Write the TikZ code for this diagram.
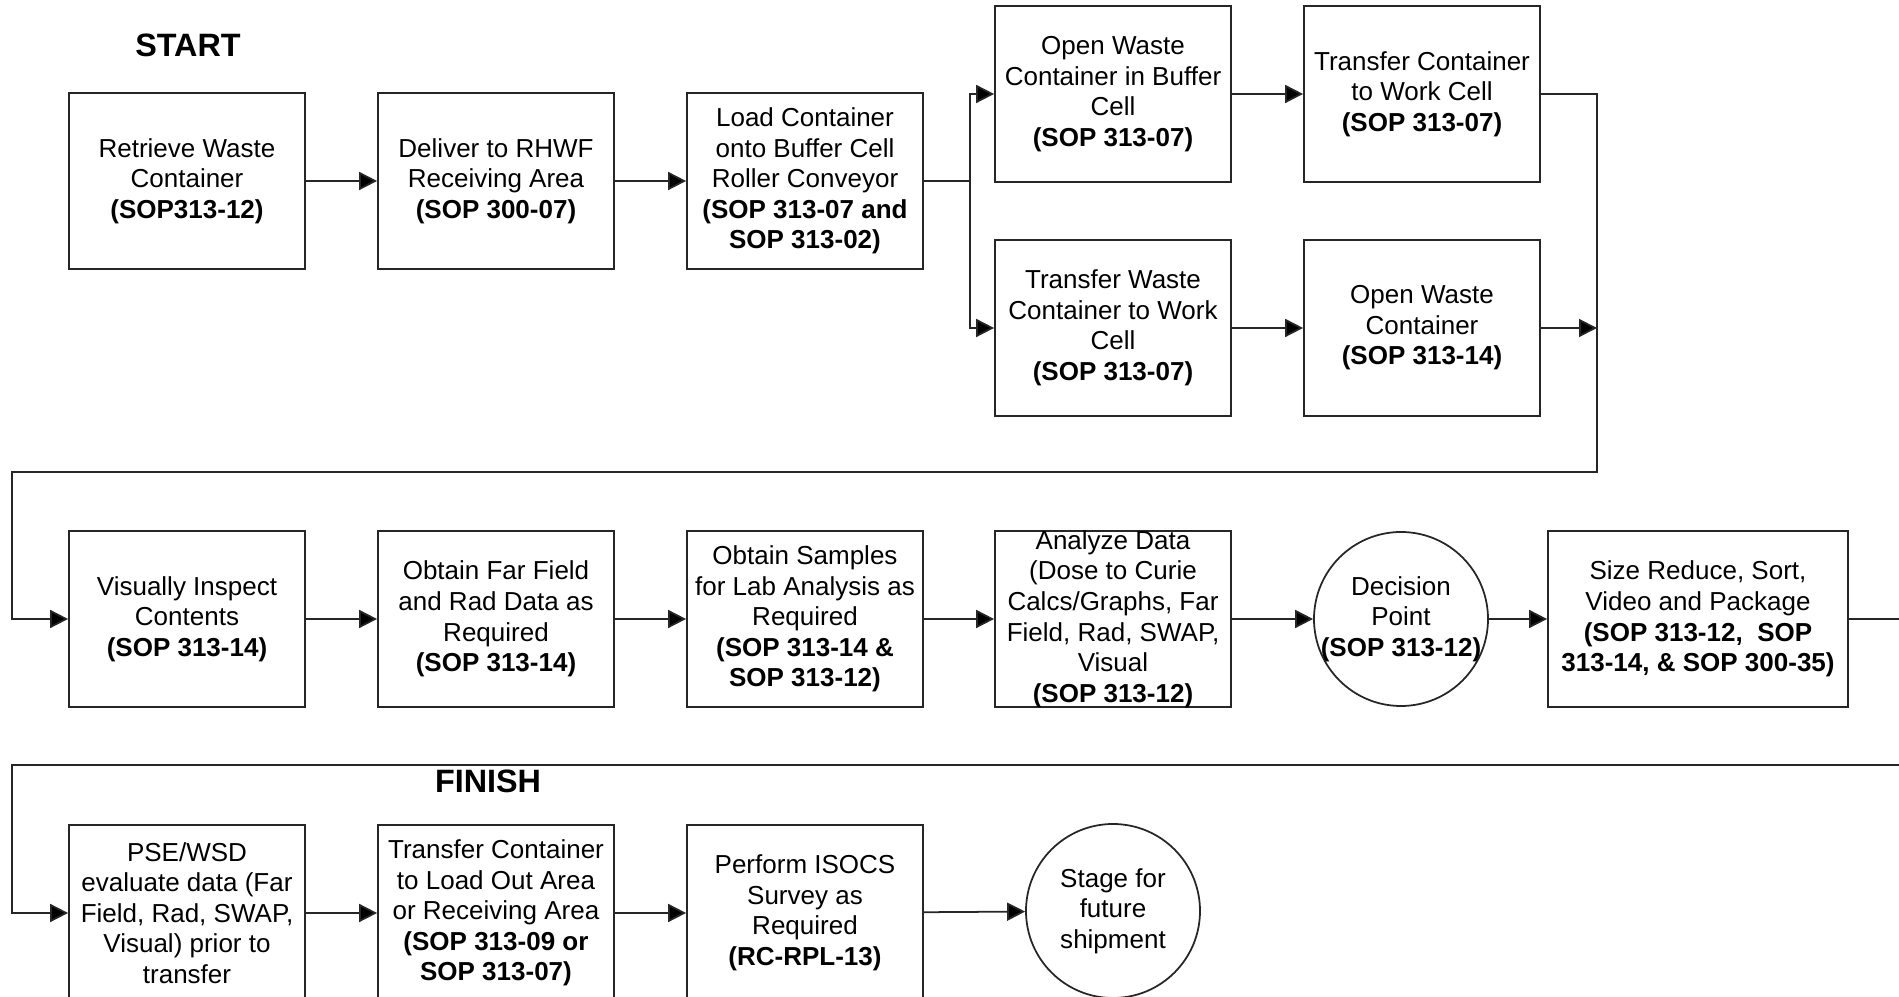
\documentclass[tikz,border=0pt]{standalone}
\usepackage{fontspec}
\setmainfont{Liberation Sans}
\usetikzlibrary{arrows.meta}
\newcommand{\boxfont}{\fontsize{7.4}{8.7}\selectfont}
\tikzstyle{proc}=[draw=black!85,line width=0.5pt,minimum width=2.36cm,minimum height=1.76cm,align=center,inner sep=1pt,font=\boxfont]
\tikzstyle{term}=[draw=black!85,line width=0.5pt,circle,minimum size=1.74cm,inner sep=0pt,align=center,font=\boxfont]
\tikzstyle{flow}=[draw=black!85,line width=0.5pt,-{Triangle[length=1.8mm,width=1.8mm,fill=black]}]
\tikzstyle{rail}=[draw=black!85,line width=0.5pt]
\tikzstyle{heading}=[font=\fontsize{9.2}{11}\selectfont\bfseries]

\begin{document}
\begin{tikzpicture}[y=-1cm]
	\useasboundingbox (0,0) rectangle (18.99,9.97);
	\node[heading] (start) at (1.88,0.45) {START};
	\node[heading] (finish) at (4.88,7.81) {FINISH};

	% first row
	\node[proc] (retrieve) at (1.87,1.81) {Retrieve Waste\\Container\\\textbf{(SOP313-12)}};
	\node[proc] (deliver) at (4.96,1.81) {Deliver to RHWF\\Receiving Area\\\textbf{(SOP 300-07)}};
	\node[proc] (load) at (8.05,1.81) {Load Container\\onto Buffer Cell\\Roller Conveyor\\\textbf{(SOP 313-07 and}\\\textbf{SOP 313-02)}};
	\node[proc] (openbuf) at (11.13,0.94) {Open Waste\\Container in Buffer\\Cell\\\textbf{(SOP 313-07)}};
	\node[proc] (xferwc) at (14.22,0.94) {Transfer Container\\to Work Cell\\\textbf{(SOP 313-07)}};
	\node[proc] (transwc) at (11.13,3.28) {Transfer Waste\\Container to Work\\Cell\\\textbf{(SOP 313-07)}};
	\node[proc] (openwc) at (14.22,3.28) {Open Waste\\Container\\\textbf{(SOP 313-14)}};

	% second row
	\node[proc] (inspect) at (1.87,6.19) {Visually Inspect\\Contents\\\textbf{(SOP 313-14)}};
	\node[proc] (farfield) at (4.96,6.19) {Obtain Far Field\\and Rad Data as\\Required\\\textbf{(SOP 313-14)}};
	\node[proc] (samples) at (8.05,6.19) {Obtain Samples\\for Lab Analysis as\\Required\\\textbf{(SOP 313-14 \&}\\\textbf{SOP 313-12)}};
	\node[proc,inner ysep=-0.8pt] (analyze) at (11.13,6.19) {Analyze Data\\(Dose to Curie\\Calcs/Graphs, Far\\Field, Rad, SWAP,\\Visual\\\textbf{(SOP 313-12)}};
	\node[term,label={[align=center,font=\boxfont]center:Decision\\Point\\\textbf{(SOP 313-12)}}] (decide) at (14.01,6.19) {};
	\node[proc,minimum width=3.0cm] (sizered) at (16.98,6.19) {Size Reduce, Sort,\\Video and Package\\\textbf{(SOP 313-12,~ SOP}\\\textbf{313-14, \& SOP 300-35)}};

	% third row
	\node[proc] (pse) at (1.87,9.13) {PSE/WSD\\evaluate data (Far\\Field, Rad, SWAP,\\Visual) prior to\\transfer};
	\node[proc] (loadout) at (4.96,9.13) {Transfer Container\\to Load Out Area\\or Receiving Area\\\textbf{(SOP 313-09 or}\\\textbf{SOP 313-07)}};
	\node[proc] (isocs) at (8.05,9.13) {Perform ISOCS\\Survey as\\Required\\\textbf{(RC-RPL-13)}};
	\node[term] (stage) at (11.13,9.11) {Stage for\\future\\shipment};

	\coordinate (br) at (9.70,1.81);
	\coordinate (jr) at (15.97,3.28);
	\coordinate (tr) at (15.97,4.72);
	\coordinate (tl) at (0.12,4.72);
	\coordinate (out1) at (18.99,6.19);
	\coordinate (in2) at (18.99,7.65);
	\coordinate (tl2) at (0.12,7.65);

	\foreach \source/\dest in {retrieve/deliver, deliver/load, openbuf/xferwc, transwc/openwc,
		inspect/farfield, farfield/samples, samples/analyze, analyze/decide, decide/sizered,
		pse/loadout, loadout/isocs, isocs/stage}
	\draw[flow] (\source) -- (\dest);

	\draw[rail] (load) -- (br);
	\draw[flow] (br) |- (openbuf);
	\draw[flow] (br) |- (transwc);
	\draw[flow] (openwc) -- (jr);
	\draw[flow] (xferwc) -| (jr) -- (tr) -- (tl) |- (inspect);
	\draw[rail] (sizered) -- (out1);
	\draw[flow] (in2) -- (tl2) |- (pse);
\end{tikzpicture}
\end{document}
